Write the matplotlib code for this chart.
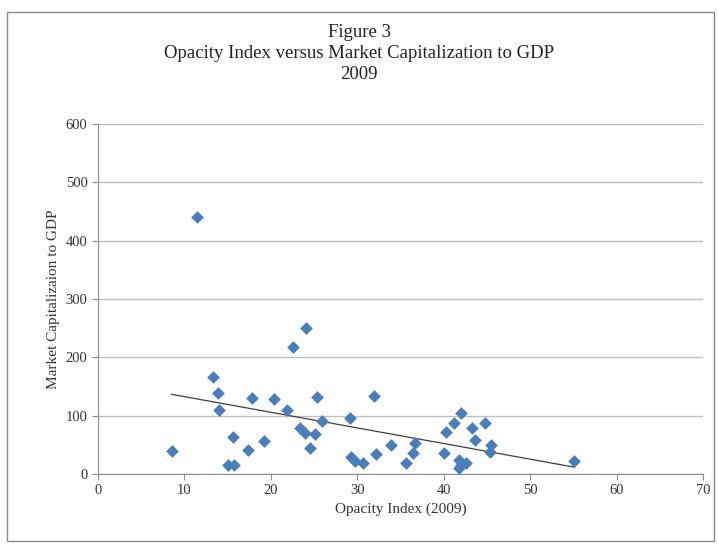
import matplotlib.pyplot as plt
import numpy as np
from matplotlib.patches import Rectangle

# opacity index (2009) and market capitalization to GDP for each country
opacity = [8.5, 11.4, 13.3, 13.9, 14.0, 15.6, 15.0, 15.7, 17.4, 17.8,
           19.2, 20.4, 21.8, 22.6, 24.0, 23.4, 23.9, 24.5, 25.3, 25.9,
           25.1, 29.2, 31.9, 29.3, 29.7, 30.6, 32.2, 33.9, 35.6, 36.4,
           36.7, 40.0, 40.3, 41.2, 42.0, 41.8, 42.0, 41.7, 42.6, 43.2,
           43.6, 44.7, 45.5, 45.3, 55.1]
mktcap = [39, 440, 166, 138, 110, 63, 15, 15, 41, 130,
          57, 128, 110, 218, 250, 79, 70, 44, 132, 91,
          68, 96, 134, 29, 23, 19, 34, 50, 19, 36,
          53, 36, 72, 87, 104, 24, 15, 10, 19, 79,
          58, 87, 50, 38, 22]

plt.rcParams['font.family'] = ['Liberation Serif', 'DejaVu Serif']

fig = plt.figure(figsize=(7.18, 5.46), dpi=100)
fig.patches.append(Rectangle((0.010, 0.010), 0.985, 0.968, transform=fig.transFigure,
                             fill=False, edgecolor='#8c8c8c', linewidth=1.0))

ax = fig.add_axes([0.1365, 0.1319, 0.843, 0.641])
ax.scatter(opacity, mktcap, marker='D', s=42, color='#4a7ebb', zorder=3, linewidths=0)

# linear trendline over the data range
k, b = np.polyfit(opacity, mktcap, 1)
xs = np.array([min(opacity), max(opacity)])
ax.plot(xs, k * xs + b, color='#404040', linewidth=0.9, zorder=2)

ax.set_xlim(0, 70)
ax.set_ylim(0, 600)
ax.set_xticks(range(0, 71, 10))
ax.set_yticks(range(0, 601, 100))
ax.grid(axis='y', color='#bfbfbf', linewidth=1.0)
ax.set_axisbelow(True)
for side in ['top', 'right']:
    ax.spines[side].set_visible(False)
for side in ['left', 'bottom']:
    ax.spines[side].set_color('#8c8c8c')
ax.tick_params(colors='#8c8c8c', labelcolor='#333333', labelsize=10.5, length=4)

ax.set_xlabel('Opacity Index (2009)', fontsize=11, color='#333333')
ax.set_ylabel('Market Capitalizaion to GDP', fontsize=11, color='#333333')

fig.text(0.5, 0.956, 'Figure 3\nOpacity Index versus Market Capitalization to GDP\n2009',
         ha='center', va='top', fontsize=13.5, linespacing=1.3, color='#222222')

fig.savefig('out.png', dpi=100)
